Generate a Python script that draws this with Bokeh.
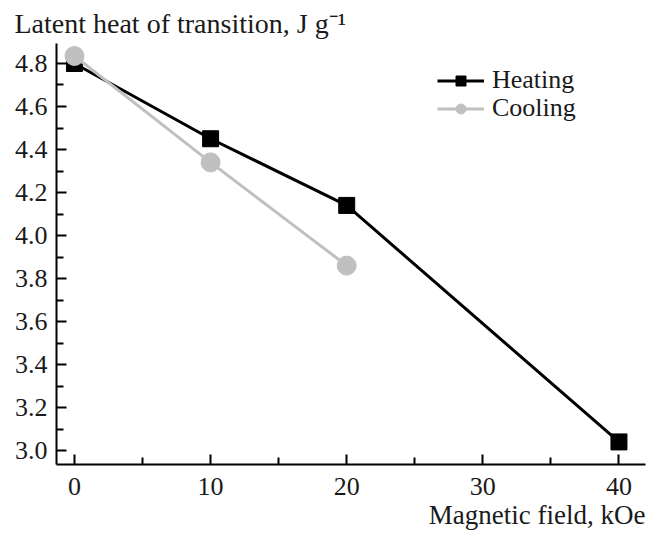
from bokeh.plotting import figure
from bokeh.models import FixedTicker, NumeralTickFormatter, Title, Legend, LegendItem, ColumnDataSource, Range1d
from bokeh.embed import file_html
from bokeh.resources import INLINE

# Data
heating_field = [0, 10, 20, 40]
heating_heat = [4.80, 4.45, 4.14, 3.04]
cooling_field = [0, 10, 20]
cooling_heat = [4.835, 4.34, 3.86]
x_ticks = [0, 10, 20, 30, 40]
x_minor = [5, 15, 25, 35]
y_ticks = [3.0, 3.2, 3.4, 3.6, 3.8, 4.0, 4.2, 4.4, 4.6, 4.8]
y_minor = [3.1, 3.3, 3.5, 3.7, 3.9, 4.1, 4.3, 4.5, 4.7]

FONT = "Liberation Serif"
FS_TICK = "26px"
FS = "27px"

p = figure(width=654, height=536, output_backend="svg", toolbar_location=None,
           x_range=Range1d(-1.32, 41.95), y_range=Range1d(2.935, 4.893),
           min_border_left=56, min_border_right=9, min_border_top=41, min_border_bottom=72)
p.outline_line_color = None
p.xgrid.visible = False
p.ygrid.visible = False
p.background_fill_color = "white"
p.border_fill_color = "white"

hs = ColumnDataSource(dict(x=heating_field, y=heating_heat))
cs = ColumnDataSource(dict(x=cooling_field, y=cooling_heat))

hl = p.line("x", "y", source=hs, line_color="black", line_width=3)
hm = p.scatter("x", "y", source=hs, marker="square", size=16, fill_color="black", line_color="black")
cl = p.line("x", "y", source=cs, line_color="#c0c0c0", line_width=3)
cm = p.scatter("x", "y", source=cs, marker="circle", size=19, fill_color="#c0c0c0", line_color="#c0c0c0")

for ax in (p.xaxis[0], p.yaxis[0]):
    ax.axis_line_width = 2
    ax.axis_line_color = "black"
    ax.major_tick_in = 10
    ax.major_tick_out = 0
    ax.minor_tick_in = 7
    ax.minor_tick_out = 0
    ax.major_tick_line_width = 2
    ax.minor_tick_line_width = 2
    ax.major_tick_line_color = "black"
    ax.minor_tick_line_color = "black"
    ax.major_label_text_font = FONT
    ax.major_label_text_font_size = FS_TICK
    ax.major_label_text_color = "#1a1a1a"

p.xaxis.ticker = FixedTicker(ticks=x_ticks, minor_ticks=x_minor)
p.yaxis.ticker = FixedTicker(ticks=y_ticks, minor_ticks=y_minor)
p.yaxis.formatter = NumeralTickFormatter(format="0.0")
p.xaxis.major_label_standoff = 13
p.yaxis.major_label_standoff = 9

p.add_layout(Title(text="Magnetic field, kOe", align="right", text_font=FONT,
                   text_font_size=FS, text_font_style="normal", text_color="#1a1a1a",
                   standoff=0), "below")
p.add_layout(Title(text="Latent heat of transition, J g\u207b\u00b9", align="left", offset=-42,
                   text_font=FONT, text_font_size="28px", text_font_style="normal",
                   text_color="#1a1a1a"), "above")

common = dict(border_line_color=None, background_fill_alpha=0,
              label_text_font=FONT, label_text_font_size="26px", label_text_color="#1a1a1a",
              glyph_width=47, glyph_height=25, label_standoff=8, padding=0, margin=0,
              spacing=0, label_height=20)
leg1 = Legend(items=[LegendItem(label="Heating", renderers=[hl, hm])],
              location=(381, 369), **common)
leg2 = Legend(items=[LegendItem(label="Cooling", renderers=[cl, cm])],
              location=(381, 341), **common)
p.add_layout(leg1)
p.add_layout(leg2)

open("out.html", "w").write(file_html(p, INLINE))
